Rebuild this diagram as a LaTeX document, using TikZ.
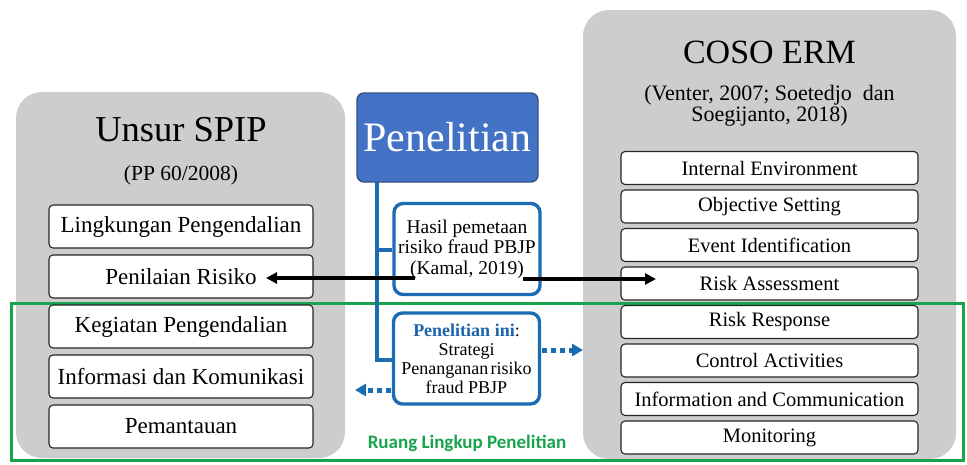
\documentclass[tikz,border=0pt]{standalone}
\usepackage{fontspec}
\setmainfont{Liberation Serif}
\newfontfamily\calibri{Carlito}
\usetikzlibrary{arrows.meta}
\definecolor{panelgray}{RGB}{205,205,205}
\definecolor{gline}{RGB}{24,163,76}
\definecolor{bluebox}{RGB}{68,114,196}
\definecolor{blueborder}{RGB}{52,80,130}
\definecolor{blueline}{RGB}{28,108,180}
\definecolor{bluetext}{RGB}{30,100,170}
\begin{document}
\begin{tikzpicture}[x=1pt,y=-1pt,
  panelbox/.style={fill=panelgray, draw=none, rounded corners=26pt},
  lbox/.style={draw=black!85, fill=white, line width=1.1pt, rounded corners=4pt,
     minimum width=264pt, minimum height=43pt, inner sep=0pt, font=\fontsize{23}{27}\selectfont},
  rbox/.style={draw=black!85, fill=white, line width=1.1pt, rounded corners=4pt,
     minimum width=297pt, minimum height=33pt, inner sep=0pt, font=\fontsize{20.5}{24}\selectfont},
  midbox/.style={draw=blueline, fill=white, line width=3.4pt, rounded corners=9pt,
     minimum width=146pt, minimum height=91pt, inner sep=0pt, align=center},
  treeline/.style={draw=blueline, line width=3.2pt},
  blackarrow/.style={line width=4pt, black},
  dotarrow/.style={line width=5pt, blueline, dash pattern=on 5pt off 4pt,
     -{Triangle[length=11pt,width=12pt]}},
]
\useasboundingbox (0,0) rectangle (967,464);
\fill[white] (0,0) rectangle (967,464);

% panels
\node[panelbox, minimum width=329pt, minimum height=366pt] (lpanel) at (180.5,275) {};
\node[panelbox, minimum width=373pt, minimum height=449pt] (rpanel) at (769.5,234.5) {};

% titles
\node[font=\fontsize{36.5}{42}\selectfont] (ltitle) at (181,130) {Unsur SPIP};
\node[font=\fontsize{21.5}{24}\selectfont] (lsub) at (181,175) {(PP 60/2008)};
\node[font=\fontsize{34}{40}\selectfont] (rtitle) at (769.5,52) {COSO ERM};
\node[font=\fontsize{22}{21}\selectfont, align=center] (rsub) at (769.5,106)
  {(Venter, 2007; Soetedjo\hspace{0.25em} dan\\Soegijanto, 2018)};

% scope frame
\node[draw=gline, line width=3pt, minimum width=952pt, minimum height=157pt, inner sep=0pt]
  (scopeframe) at (487,381.5) {};
\node[font=\calibri\bfseries\fontsize{19}{22}\selectfont, text=gline] (scopelabel) at (467,443)
  {Ruang Lingkup Penelitian};

% left boxes
\node[lbox] (l1) at (181,226.5) {Lingkungan Pengendalian};
\node[lbox] (l2) at (181,276.5) {Penilaian Risiko};
\node[lbox] (l3) at (181,326.5) {Kegiatan Pengendalian};
\node[lbox] (l4) at (181,376.5) {Informasi dan Komunikasi};
\node[lbox] (l5) at (181,426.5) {Pemantauan};

% right boxes
\node[rbox] (r1) at (769.5,168)   {Internal Environment};
\node[rbox] (r2) at (769.5,206.5) {Objective Setting};
\node[rbox] (r3) at (769.5,245)   {Event Identification};
\node[rbox] (r4) at (769.5,283.5) {Risk Assessment};
\node[rbox] (r5) at (769.5,322)   {Risk Response};
\node[rbox] (r6) at (769.5,360.5) {Control Activities};
\node[rbox] (r7) at (769.5,399)   {Information and Communication};
\node[rbox] (r8) at (769.5,437.5) {Monitoring};

% middle
\node[fill=bluebox, draw=blueborder, line width=1.4pt, rounded corners=7pt,
  minimum width=181pt, minimum height=89pt, inner sep=0pt, text=white,
  font=\fontsize{42}{48}\selectfont] (pen) at (447.5,137.5) {Penelitian};
\node[midbox, font=\fontsize{19.5}{20.5}\selectfont] (hasil) at (467,249)
  {Hasil pemetaan\\risiko fraud PBJP\\(Kamal, 2019)};
\node[midbox, font=\fontsize{18}{19}\selectfont] (ini) at (466.5,358.5)
  {\textcolor{bluetext}{\bfseries Penelitian ini}:\\Strategi\\Penanganan\hspace{0.12em}risiko\\fraud PBJP};

% tree connector
\coordinate (trunktop) at (377,182);
\coordinate (branch1) at (377,250);
\coordinate (branch2) at (377,360);
\draw[treeline] (trunktop) -- (branch2) -- (branch2 -| ini.west);
\draw[treeline] (branch1) -- (branch1 -| hasil.west);

% black double arrow (interrupted by the citation text)
\coordinate (aL) at (266,278);
\coordinate (kL) at (415,278);
\coordinate (kR) at (523,279);
\coordinate (aR) at (656,279);
\draw[blackarrow, {Triangle[length=11pt,width=11pt]}-] (aL) -- (kL);
\draw[blackarrow, -{Triangle[length=11pt,width=11pt]}] (kR) -- (aR);

% dotted blue arrows
\coordinate (dR1) at (542,350);
\coordinate (dR2) at (583,350);
\coordinate (dL1) at (391,390);
\coordinate (dL2) at (355,390);
\draw[dotarrow] (dR1) -- (dR2);
\draw[dotarrow] (dL1) -- (dL2);
\end{tikzpicture}
\end{document}
